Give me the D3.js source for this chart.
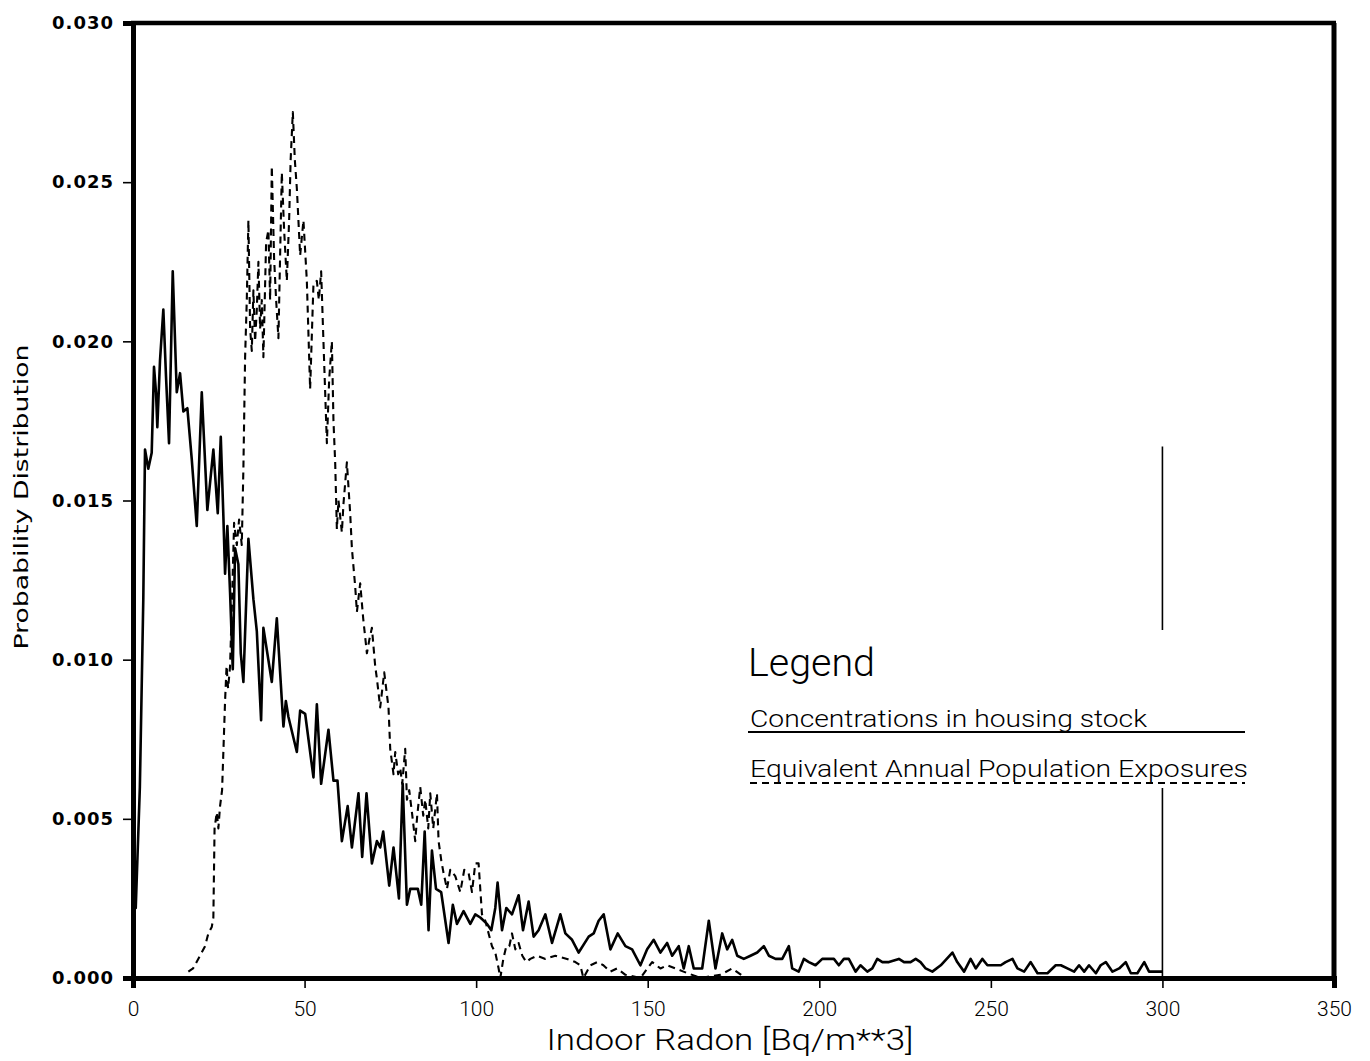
<!DOCTYPE html>
<html><head><meta charset="utf-8">
<script src="https://cdn.jsdelivr.net/npm/d3@7"></script>
<style>body{margin:0;background:#fff} svg{display:block}</style>
</head><body><svg id="c" width="1370" height="1061"></svg>
<script>
const xTicks = [0, 50, 100, 150, 200, 250, 300, 350];
const yTicks = [0, 0.005, 0.010, 0.015, 0.020, 0.025, 0.030];
const xLabel = "Indoor Radon [Bq/m**3]";
const yLabel = "Probability Distribution";
const legendTitle = "Legend";
const seriesNames = ["Concentrations in housing stock", "Equivalent Annual Population Exposures"];

// Concentrations in housing stock (solid)
const housingStock = [[0,0],[0.4,0.0042],[0.8,0.0022],[2.0,0.0060],[3.0,0.0119],[3.5,0.0166],[4.46,0.0160],[5.45,0.0165],[6.12,0.0192],[6.71,0.0184],[7.09,0.0173],[7.87,0.0194],[8.84,0.0210],[9.62,0.0189],[10.5,0.0168],[11.58,0.0222],[12.75,0.0184],[13.71,0.0190],[14.67,0.0178],[15.84,0.0179],[17.12,0.0163],[18.58,0.0142],[20.04,0.0184],[21.67,0.0147],[23.42,0.0166],[24.7,0.0146],[25.58,0.0170],[26.34,0.0145],[26.83,0.0127],[27.5,0.0142],[28.29,0.0121],[29.08,0.0097],[29.75,0.0135],[30.71,0.0130],[31.41,0.0102],[32.17,0.0093],[33.63,0.0138],[35.09,0.0119],[36.08,0.0109],[37.33,0.0081],[38.0,0.0110],[40.45,0.0093],[41.91,0.0113],[43.84,0.0079],[44.54,0.0087],[45.3,0.0082],[47.75,0.0071],[48.71,0.0084],[50.17,0.0083],[52.59,0.0063],[53.58,0.0086],[54.83,0.0061],[56.96,0.0078],[58.42,0.0062],[59.59,0.0062],[60.87,0.0043],[62.56,0.0054],[63.79,0.0041],[65.71,0.0058],[66.79,0.0038],[68.05,0.0058],[69.62,0.0036],[71.08,0.0043],[72.04,0.0041],[72.92,0.0046],[74.67,0.0029],[75.92,0.0041],[77.5,0.0025],[78.6,0.0061],[79.83,0.0023],[80.79,0.0028],[83.0,0.0028],[84.0,0.0023],[85.0,0.0046],[86.13,0.0015],[87.12,0.0040],[88.3,0.0028],[89.8,0.0027],[91.96,0.0011],[93.2,0.0023],[94.41,0.0017],[96.34,0.0021],[98.29,0.0017],[99.75,0.0020],[101.21,0.0019],[103.16,0.0017],[104.42,0.0015],[105.58,0.0022],[106.25,0.0030],[107.54,0.0015],[108.79,0.0022],[110.45,0.0020],[112.38,0.0026],[113.66,0.0015],[115.3,0.0024],[116.75,0.0013],[118.2,0.0015],[120.17,0.0020],[122.12,0.0011],[124.54,0.0020],[126.0,0.0014],[127.95,0.0012],[129.88,0.0008],[132.8,0.0013],[134.25,0.0014],[135.7,0.0018],[137.17,0.0020],[139.12,0.0009],[141.25,0.0014],[143.5,0.0010],[145.45,0.0009],[147.87,0.0004],[149.83,0.0009],[151.75,0.0012],[153.71,0.0008],[155.66,0.0011],[157.12,0.0007],[159.04,0.0010],[160.5,0.0003],[161.96,0.0010],[163.42,0.0003],[165.87,0.0003],[167.8,0.0018],[169.75,0.0003],[171.7,0.0014],[173.16,0.0009],[174.62,0.0012],[176.08,0.0007],[178.0,0.0006],[179.96,0.0007],[181.91,0.0008],[183.84,0.0010],[185.3,0.0007],[187.25,0.0006],[189.2,0.0006],[191.13,0.0010],[192.1,0.0003],[194.0,0.0002],[195.5,0.0006],[196.96,0.0005],[198.9,0.0004],[200.87,0.0006],[202.8,0.0006],[204.25,0.0006],[205.7,0.0004],[207.17,0.0006],[208.6,0.0006],[210.58,0.0002],[212.0,0.0004],[214.0,0.0002],[215.45,0.0003],[216.9,0.0006],[218.4,0.0005],[220.3,0.0005],[223.2,0.0006],[224.7,0.0005],[226.6,0.0005],[228.1,0.0006],[229.5,0.0005],[231.0,0.0003],[232.95,0.0002],[235.4,0.0004],[238.8,0.0008],[240.2,0.0005],[242.2,0.0002],[244.1,0.0006],[245.6,0.0003],[247.5,0.0006],[249.0,0.0004],[250.9,0.0004],[252.9,0.0004],[254.3,0.0005],[256.3,0.0006],[257.75,0.0003],[259.7,0.0002],[261.6,0.0005],[263.6,0.00015],[266.5,0.00015],[268.9,0.0004],[270.4,0.0004],[272.3,0.0003],[274.25,0.0002],[275.7,0.0004],[277.2,0.0002],[278.6,0.0004],[280.6,0.00015],[282.0,0.0004],[283.5,0.0005],[285.45,0.0002],[287.4,0.0003],[289.3,0.0005],[290.8,0.00015],[292.7,0.00015],[294.7,0.0005],[296.1,0.0002],[298.6,0.0002],[300,0.0002]];

// Equivalent Annual Population Exposures (dashed)
const populationExposure = [[16.13,0.0002],[17.5,0.0003],[19.54,0.0007],[21.0,0.0010],[21.96,0.0014],[22.95,0.0016],[23.42,0.0019],[23.77,0.0047],[24.41,0.0052],[24.88,0.0047],[25.37,0.0054],[25.96,0.0059],[26.83,0.0087],[27.27,0.0098],[27.71,0.0091],[28.29,0.0098],[28.87,0.0119],[29.46,0.0143],[30.25,0.0136],[30.92,0.0144],[31.7,0.0136],[32.17,0.0160],[32.67,0.0195],[33.16,0.0213],[33.63,0.0238],[34.13,0.0204],[34.62,0.0197],[35.09,0.0216],[35.58,0.0200],[36.08,0.0210],[36.55,0.0225],[37.04,0.0204],[37.54,0.0213],[38.0,0.0195],[38.79,0.0231],[39.46,0.0235],[39.96,0.0213],[40.45,0.0255],[41.12,0.0226],[41.71,0.0213],[42.38,0.0201],[43.37,0.0253],[44.04,0.0235],[44.83,0.0219],[45.5,0.0238],[45.94,0.0257],[46.58,0.0272],[47.16,0.0257],[47.75,0.0248],[48.71,0.0227],[49.67,0.0238],[50.66,0.0219],[51.62,0.0185],[52.59,0.0218],[53.58,0.0219],[54.16,0.0213],[54.83,0.0222],[55.5,0.0200],[56.5,0.0168],[57.17,0.0188],[57.95,0.0200],[58.42,0.0175],[58.92,0.0162],[59.41,0.0141],[59.88,0.0150],[60.87,0.0140],[61.34,0.0149],[62.33,0.0162],[63.29,0.0146],[63.79,0.0135],[64.75,0.0123],[65.25,0.0115],[66.21,0.0124],[67.08,0.0113],[68.16,0.0102],[68.83,0.0106],[69.62,0.0110],[70.58,0.0098],[71.08,0.0094],[72.04,0.0085],[73.21,0.0096],[74.46,0.0085],[74.96,0.0072],[75.92,0.0064],[76.42,0.0071],[77.29,0.0064],[77.87,0.0066],[78.46,0.0061],[79.33,0.0072],[79.83,0.0056],[80.5,0.0059],[81.29,0.0052],[82.25,0.0043],[82.83,0.0051],[83.71,0.0060],[84.58,0.0051],[85.17,0.0056],[86.04,0.0047],[86.63,0.0058],[87.5,0.0047],[88.58,0.0058],[89.05,0.0043],[89.83,0.0037],[90.5,0.0033],[91.5,0.0028],[92.46,0.0034],[93.92,0.0032],[95.38,0.0027],[96.54,0.0034],[97.8,0.0033],[98.79,0.0027],[99.75,0.0036],[100.71,0.0036],[101.7,0.0020],[102.67,0.0018],[103.63,0.0014],[104.62,0.0010],[105.58,0.0008],[106.55,0.0003],[107.04,0],[107.92,0.0006],[108.79,0.0010],[109.67,0.0010],[110.45,0.0014],[111.42,0.0009],[112.38,0.0011],[113.46,0.0007],[114.62,0.0005],[115.79,0.0006],[117.75,0.0007],[120.17,0.0006],[123.08,0.0007],[126.49,0.0006],[128.92,0.0005],[130.37,0.0004],[131.25,0],[133.29,0.0004],[135.33,0.0005],[137.08,0.0004],[139.12,0.0002],[141.08,0.0003],[143.5,0.0001],[147.87,0],[151.29,0.0005],[153.71,0.0003],[155.75,0.0004],[160.42,0.0002],[165.37,0],[171.2,0.0001],[174.62,0.0003],[178.5,0],[300,0]];

// vertical marker at 300 Bq/m**3
const cutoffLine = [[300, 0], [300, 0.0167]];

const svg = d3.select("#c");
const x = d3.scaleLinear().domain([0, 350]).range([133, 1334]);
const y = d3.scaleLinear().domain([0, 0.030]).range([978, 23]);
const line = d3.line().x(d => x(d[0])).y(d => y(d[1]));

const lightFont = "Roboto, 'DejaVu Sans', sans-serif";

// cutoff line
svg.append("path").datum(cutoffLine).attr("d", line)
  .attr("fill", "none").attr("stroke", "#000").attr("stroke-width", 1.6);

// data
svg.append("path").datum(populationExposure).attr("d", line)
  .attr("fill", "none").attr("stroke", "#000").attr("stroke-width", 2.1)
  .attr("stroke-dasharray", "7,5").attr("stroke-linejoin", "round");
svg.append("path").datum(housingStock).attr("d", line)
  .attr("fill", "none").attr("stroke", "#000").attr("stroke-width", 2.6)
  .attr("stroke-linejoin", "round");

// legend
const lg = svg.append("g");
lg.append("rect").attr("x", 740).attr("y", 630).attr("width", 515).attr("height", 158).attr("fill", "#fff");
lg.append("text").attr("x", 748).attr("y", 676).text(legendTitle)
  .attr("font-family", lightFont).attr("font-weight", 300).attr("font-size", 38)
  .attr("textLength", 127).attr("lengthAdjust", "spacingAndGlyphs");
lg.append("text").attr("x", 750).attr("y", 727).text(seriesNames[0])
  .attr("font-family", lightFont).attr("font-weight", 300).attr("font-size", 24)
  .attr("textLength", 397).attr("lengthAdjust", "spacingAndGlyphs");
lg.append("line").attr("x1", 748).attr("x2", 1245).attr("y1", 732).attr("y2", 732)
  .attr("stroke", "#000").attr("stroke-width", 2);
lg.append("text").attr("x", 750).attr("y", 777).text(seriesNames[1])
  .attr("font-family", lightFont).attr("font-weight", 300).attr("font-size", 24)
  .attr("textLength", 498).attr("lengthAdjust", "spacingAndGlyphs");
lg.append("line").attr("x1", 750).attr("x2", 1245).attr("y1", 783).attr("y2", 783)
  .attr("stroke", "#000").attr("stroke-width", 2).attr("stroke-dasharray", "7,5");

// frame
svg.append("line").attr("x1", x(0) - 2).attr("x2", x(350) + 2).attr("y1", y(0.030)).attr("y2", y(0.030))
  .attr("stroke", "#000").attr("stroke-width", 4.5);
svg.append("line").attr("x1", x(350)).attr("x2", x(350)).attr("y1", y(0.030)).attr("y2", y(0) + 2)
  .attr("stroke", "#000").attr("stroke-width", 5);

// axes
const yAxis = svg.append("g").attr("transform", `translate(${x(0)},0)`)
  .call(d3.axisLeft(y).tickValues(yTicks).tickFormat(d3.format(".3f")).tickSize(10).tickPadding(9));
yAxis.select(".domain").attr("stroke-width", 5);
yAxis.selectAll(".tick line").attr("stroke-width", 1.6);
yAxis.selectAll(".tick text").attr("font-family", "'DejaVu Sans', sans-serif")
  .attr("font-weight", "bold").attr("font-size", 18).attr("letter-spacing", 1).attr("fill", "#000");

const xAxis = svg.append("g").attr("transform", `translate(0,${y(0)})`)
  .call(d3.axisBottom(x).tickValues(xTicks).tickFormat(d3.format("d")).tickSize(10).tickPadding(13));
xAxis.select(".domain").attr("stroke-width", 5);
xAxis.selectAll(".tick line").attr("stroke-width", 1.6);
xAxis.selectAll(".tick text").attr("font-family", lightFont).attr("font-weight", 300)
  .attr("font-size", 21).attr("fill", "#000");

// axis titles
svg.append("text").attr("x", 730).attr("y", 1050).attr("text-anchor", "middle").text(xLabel)
  .attr("font-family", lightFont).attr("font-weight", 300).attr("font-size", 30)
  .attr("textLength", 367).attr("lengthAdjust", "spacingAndGlyphs");
svg.append("text").attr("transform", "translate(28,497) rotate(-90)").attr("text-anchor", "middle").text(yLabel)
  .attr("font-family", "'DejaVu Sans', sans-serif").attr("font-size", 20)
  .attr("textLength", 305).attr("lengthAdjust", "spacingAndGlyphs");
</script></body></html>
